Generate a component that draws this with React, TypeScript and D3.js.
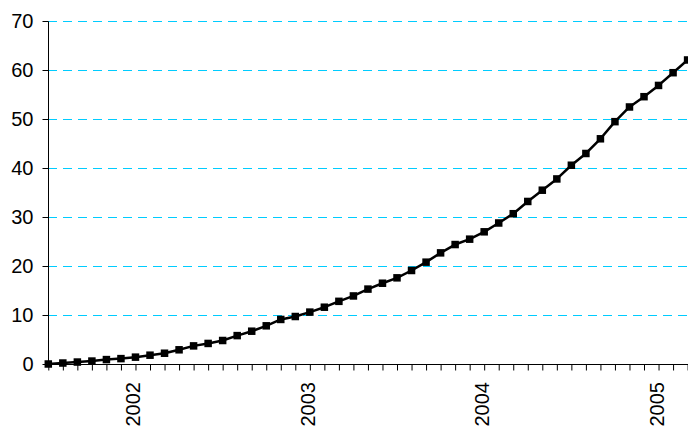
import React, { useEffect, useRef } from 'react';
import * as d3 from 'd3';

// monthly points, Jul 2001 .. Mar 2005
const months: Date[] = d3.timeMonth.range(new Date(2001, 6, 1), new Date(2005, 3, 1));

const values: number[] = [
  0, 0.2, 0.4, 0.6, 0.9, 1.1, 1.4, 1.8, 2.2, 2.9, 3.7, 4.2, 4.8, 5.8, 6.7, 7.8, 9.1,
  9.7, 10.6, 11.6, 12.8, 13.9, 15.3, 16.5, 17.6, 19.1, 20.8, 22.7, 24.4, 25.5, 27.0, 28.8,
  30.7, 33.2, 35.5, 37.8, 40.6, 43.0, 46.0, 49.5, 52.5, 54.6, 56.9, 59.5, 62.1,
];

const yTicks: number[] = [0, 10, 20, 30, 40, 50, 60, 70];

const App: React.FC = () => {
  const svgRef = useRef<SVGSVGElement>(null);

  const width = 688;
  const height = 428;
  const left = 48;
  const top = 21.3;
  const bottom = 364;

  useEffect(() => {
    if (!svgRef.current) return;
    const svg = d3.select(svgRef.current);
    svg.selectAll('*').remove();

    const x = d3.scalePoint<number>()
      .domain(months.map((_, i) => i))
      .range([left + 0.3, 687.6]);

    const y = d3.scaleLinear().domain([0, 70]).range([bottom, top]);

    const font = '"Liberation Sans", Arial, sans-serif';

    // gridlines
    svg.append('g')
      .selectAll('line')
      .data(yTicks.filter(t => t > 0))
      .join('line')
      .attr('x1', left)
      .attr('x2', width)
      .attr('y1', d => Math.round(y(d)) + 0.5)
      .attr('y2', d => Math.round(y(d)) + 0.5)
      .attr('stroke', '#00ccff')
      .attr('stroke-width', 1)
      .attr('stroke-dasharray', '9,6');

    // y axis
    const yAxis = svg.append('g')
      .attr('transform', `translate(${left + 0.5},0.5)`)
      .call(d3.axisLeft(y).tickValues(yTicks).tickSize(6).tickPadding(9).tickFormat(d3.format('d')));
    yAxis.select('.domain').attr('stroke', '#000').attr('d', `M0,${Math.round(top)}V${bottom}`);
    yAxis.selectAll('.tick line').attr('stroke', '#000');
    yAxis.selectAll('.tick text')
      .attr('fill', '#000')
      .attr('font-family', font)
      .attr('font-size', 20);
    yAxis.selectAll('.tick').attr('transform', (d: any) => `translate(0,${Math.round(y(d))})`);

    // x axis
    const xAxis = svg.append('g')
      .attr('transform', `translate(0,${bottom + 0.5})`)
      .call(d3.axisBottom(x).tickSize(6).tickFormat(() => ''));
    xAxis.select('.domain').attr('stroke', '#000').attr('d', `M${left},0H${width}`);
    xAxis.selectAll('.tick line').attr('stroke', '#000');

    // year labels on January ticks
    svg.append('g')
      .selectAll('text')
      .data(months.map((m, i) => ({ m, i })).filter(d => d.m.getMonth() === 0))
      .join('text')
      .attr('transform', d => `translate(${x(d.i)},382) rotate(-90)`)
      .attr('text-anchor', 'end')
      .attr('dy', '0.25em')
      .attr('font-family', font)
      .attr('font-size', 20)
      .attr('fill', '#000')
      .text(d => d3.timeFormat('%Y')(d.m));

    // series line
    const line = d3.line<number>()
      .x((_, i) => x(i) as number)
      .y(d => y(d));

    svg.append('path')
      .datum(values)
      .attr('d', line)
      .attr('fill', 'none')
      .attr('stroke', '#000')
      .attr('stroke-width', 2.5)
      .attr('stroke-linejoin', 'round');

    // square markers
    const s = 7.5;
    svg.append('g')
      .selectAll('rect')
      .data(values)
      .join('rect')
      .attr('x', (_, i) => (x(i) as number) - s / 2)
      .attr('y', d => y(d) - s / 2)
      .attr('width', s)
      .attr('height', s)
      .attr('fill', '#000');
  }, []);

  return (
    <svg
      ref={svgRef}
      width={width}
      height={height}
      style={{ position: 'absolute', left: 0, top: 0, background: '#fff' }}
    />
  );
};

export default App;
